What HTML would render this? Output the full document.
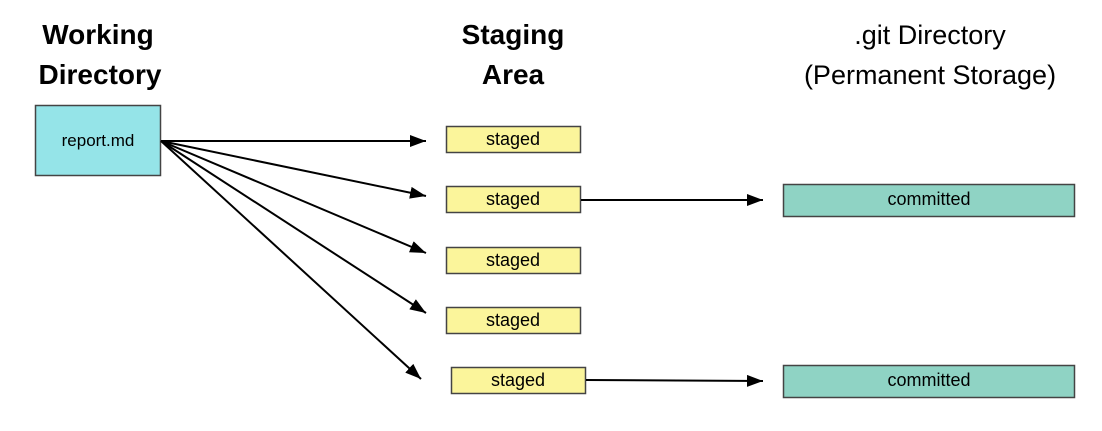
<!DOCTYPE html>
<html><head><style>
body{margin:0;background:#fff;}
svg{display:block;}
text{font-family:"Liberation Sans",sans-serif;}
</style></head><body>
<svg width="1102" height="431" viewBox="0 0 1102 431">
<defs><marker id="a" markerWidth="16" markerHeight="12" refX="16" refY="6" orient="auto" markerUnits="userSpaceOnUse"><path d="M0,0 L16,6 L0,12 Z" fill="#000"/></marker></defs>
<g font-size="28" font-weight="bold" text-anchor="middle" fill="#000">
<text x="98" y="44">Working</text><text x="100" y="84">Directory</text>
<text x="513" y="44">Staging</text><text x="513" y="84">Area</text>
</g>
<g font-size="27" text-anchor="middle" fill="#000">
<text x="930" y="44">.git Directory</text><text x="930" y="84">(Permanent Storage)</text>
</g>
<rect x="35.5" y="105.5" width="125" height="70" fill="#95e4e8" stroke="#444" stroke-width="1.5"/>
<text x="98" y="146" font-size="17" text-anchor="middle">report.md</text>
<g fill="#fbf59b" stroke="#444" stroke-width="1.5">
<rect x="446.5" y="126.5" width="134" height="26"/>
<rect x="446.5" y="186.5" width="134" height="26"/>
<rect x="446.5" y="247.5" width="134" height="26"/>
<rect x="446.5" y="307.5" width="134" height="26"/>
<rect x="451.5" y="367.5" width="134" height="26"/>
</g>
<g font-size="18" text-anchor="middle">
<text x="513" y="145">staged</text><text x="513" y="205">staged</text><text x="513" y="266">staged</text><text x="513" y="326">staged</text><text x="518" y="386">staged</text>
</g>
<g fill="#8fd3c4" stroke="#444" stroke-width="1.5">
<rect x="783.5" y="184.5" width="291" height="32"/>
<rect x="783.5" y="365.5" width="291" height="32"/>
</g>
<g font-size="18" text-anchor="middle">
<text x="929" y="205">committed</text><text x="929" y="386">committed</text>
</g>
<g stroke="#000" stroke-width="2" marker-end="url(#a)">
<line x1="161" y1="141" x2="426" y2="141"/>
<line x1="161" y1="141" x2="426" y2="196"/>
<line x1="161" y1="141" x2="426" y2="253"/>
<line x1="161" y1="141" x2="426" y2="313"/>
<line x1="161" y1="141" x2="421" y2="379"/>
<line x1="581" y1="200" x2="763" y2="200"/>
<line x1="586" y1="380" x2="763" y2="381"/>
</g>
</svg>
</body></html>
